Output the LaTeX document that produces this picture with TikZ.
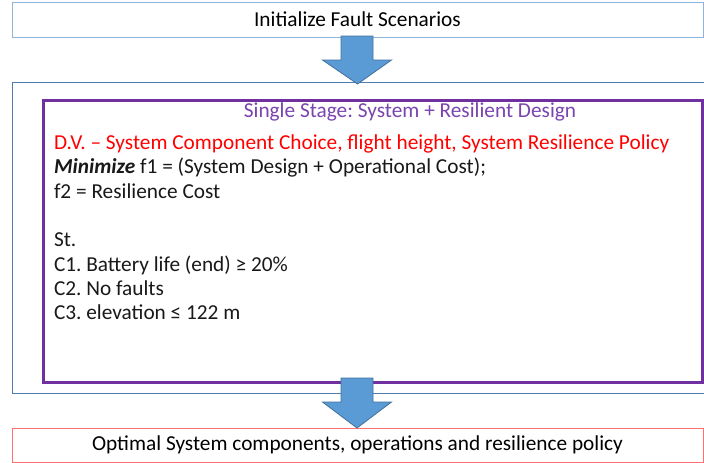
\documentclass[tikz,border=0pt]{standalone}
\usepackage{fontspec}
\setmainfont{Carlito}
\usetikzlibrary{calc}
\definecolor{lightblueline}{HTML}{8FB4DA}
\definecolor{steelline}{HTML}{4F7CAC}
\definecolor{stagepurple}{HTML}{7030A0}
\definecolor{titlepurple}{HTML}{7A45AE}
\definecolor{resultred}{HTML}{FF6F6F}
\definecolor{arrowfill}{HTML}{5B9BD5}
\definecolor{arrowline}{HTML}{41719C}
\definecolor{dvred}{HTML}{FF0000}
\tikzset{
  every node/.style={font=\fontsize{21.3}{24.3}\selectfont, inner sep=0pt, outer sep=0pt},
  panel/.style={draw, rectangle, inner sep=0pt},
  blockarrow/.style={fill=arrowfill, draw=arrowline, line width=0.8pt, line join=miter},
  bodytext/.style={anchor=base west, text=black!90},
}
\frenchspacing
\begin{document}
\begin{tikzpicture}[x=1pt, y=-1pt]
  \useasboundingbox (0,0) rectangle (704,463);
  \fill[white] (0,0) rectangle (704,463);

  % first step
  \node[panel, draw=lightblueline, line width=1pt, minimum width=691pt, minimum height=35pt]
    (init) at (357.5,19.5) {Initialize Fault Scenarios};

  % enclosing frame of the optimisation stage
  \node[panel, draw=steelline, line width=1pt, minimum width=694pt, minimum height=311pt]
    (frame) at (359,237.5) {};

  % single-stage problem box
  \node[panel, draw=stagepurple, line width=3pt, minimum width=659pt, minimum height=282pt]
    (stage) at (372.5,241) {};

  % problem statement
  \node[anchor=base, text=titlepurple] (title) at (410,117) {Single Stage: System + Resilient Design};
  \node[bodytext, text=dvred] (dv) at (54,149.5) {D.V. – System Component Choice, flight height, System Resilience Policy};
  \node[bodytext] (obj1) at (54,173.8) {\textbf{\textit{Minimize}} f1 = (System Design + Operational Cost);};
  \node[bodytext] (obj2) at (54,198.1) {f2 = Resilience Cost};
  \node[bodytext] (st) at (54,246.7) {St.};
  \node[bodytext] (c1) at (54,271) {C1. Battery life (end) ≥ 20\%};
  \node[bodytext] (c2) at (54,295.3) {C2. No faults};
  \node[bodytext] (c3) at (54,319.6) {C3. elevation ≤ 122 m};

  % result
  \node[panel, draw=resultred, line width=1pt, minimum width=691pt, minimum height=34pt]
    (result) at (357.5,445) {Optimal System components, operations and resilience policy};

  % block arrows between the stages
  \coordinate (a1s) at ($(init.south)+(-0.5,-1)$);
  \coordinate (a1t) at ($(frame.north)+(-1.5,2)$);
  \draw[blockarrow] ($(a1s)+(-16,0)$) -- ($(a1s)+(16,0)$) -- ($(a1s)+(16,24)$)
    -- ($(a1s)+(34.5,24)$) -- (a1t) -- ($(a1s)+(-34.5,24)$) -- ($(a1s)+(-16,24)$) -- cycle;

  \coordinate (a2s) at ($(stage.south)+(-15.5,-4)$);
  \coordinate (a2t) at ($(result.north)+(-0.5,0)$);
  \draw[blockarrow] ($(a2s)+(-16,0)$) -- ($(a2s)+(16,0)$) -- ($(a2s)+(16,24)$)
    -- ($(a2s)+(34.5,24)$) -- (a2t) -- ($(a2s)+(-34.5,24)$) -- ($(a2s)+(-16,24)$) -- cycle;
\end{tikzpicture}
\end{document}
